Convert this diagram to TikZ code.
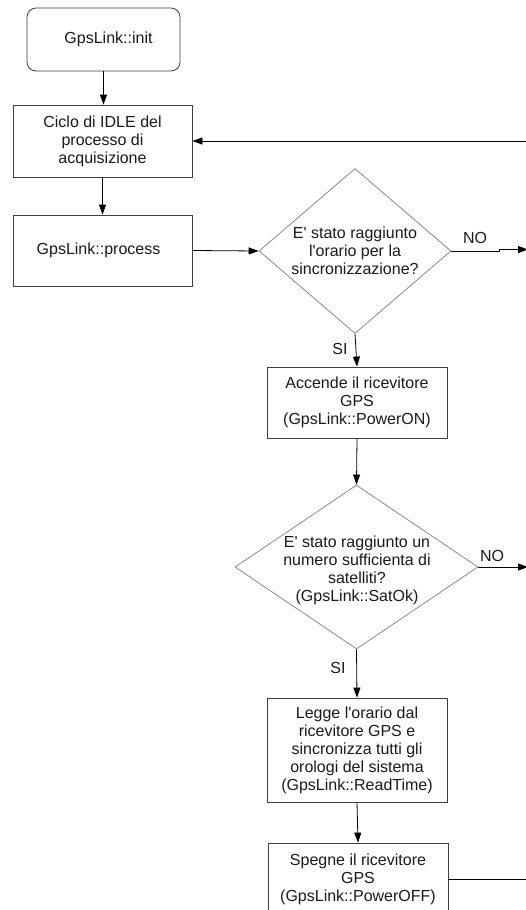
\documentclass[tikz,border=0pt]{standalone}
\usepackage{fontspec}
\setmainfont{Liberation Sans}
\usetikzlibrary{arrows.meta,shapes.geometric}
\definecolor{boxline}{HTML}{404040}
\definecolor{diamline}{HTML}{8A8A8A}
\definecolor{txt}{HTML}{1A1A1A}
\newcommand{\ap}{\textquotesingle}
\tikzset{
  every node/.style={font=\fontsize{16}{18}\selectfont, text=txt},
  stepbox/.style={draw=boxline, line width=0.8pt, align=center, inner sep=0pt},
  decision/.style={draw=diamline, line width=0.8pt, diamond, inner sep=0pt},
  conn/.style={draw=black, line width=0.8pt, -{Triangle[length=10pt,width=7pt]}},
  plain/.style={draw=black, line width=0.8pt},
  lbl/.style={inner sep=0pt}
}
\begin{document}
\begin{tikzpicture}[x=1pt,y=-1pt]
\useasboundingbox (0,0) rectangle (526,910);
\fill[white] (0,0) rectangle (526,910);

\node[stepbox, rounded corners=9pt, minimum width=153pt, minimum height=63pt] (init) at (103.5,39.5) {\hspace{10pt}GpsLink::init};
\node[stepbox, minimum width=179pt, minimum height=72pt] (idle) at (102.5,141) {Ciclo di IDLE del\\processo di\\acquisizione};
\node[stepbox, minimum width=179pt, minimum height=71pt] (proc) at (102.5,250.5) {GpsLink::process\hspace{8pt}};

\node[decision, minimum width=192pt, minimum height=165pt] (d1) at (355,251) {};
\node[lbl, align=center] (d1t) at (d1.center) {E\ap{} stato raggiunto\\l\ap orario per la\\sincronizzazione?};

\node[stepbox, minimum width=180pt, minimum height=71pt] (pon) at (357,402.5) {Accende il ricevitore\\GPS\\(GpsLink::PowerON)};

\node[decision, minimum width=243pt, minimum height=164pt] (d2) at (356.5,567) {};
\node[lbl, align=center] (d2t) at (357,570) {E\ap{} stato raggiunto un\\numero sufficienta di\\satelliti?\\(GpsLink::SatOk)};

\node[stepbox, minimum width=180pt, minimum height=104pt] (read) at (357,750) {Legge l\ap orario dal\\ricevitore GPS e\\sincronizza tutti gli\\orologi del sistema\\(GpsLink::ReadTime)};

\node[stepbox, minimum width=180pt, minimum height=72pt] (poff) at (358,879) {Spegne il ricevitore\\GPS\\(GpsLink::PowerOFF)};

\coordinate (no1) at (528,249.5);
\coordinate (no2) at (528,567);
\coordinate (loop) at (526,141);
\coordinate (offend) at (526,879);

\draw[conn] (init.south) -- (init.south |- idle.north);
\draw[conn] (idle) -- (proc);
\draw[conn] (proc.east) -- (d1.west);
\draw[conn] (d1.east) -- (499,251) -- (499,249.5) -- (no1);
\draw[conn] (d1.south) -- (pon.north);
\draw[conn] (pon.south) -- (d2.north);
\draw[conn] (d2.east) -- (no2);
\draw[conn] (d2.south) -- (read.north);
\draw[conn] (read.south) -- (poff.north);
\draw[plain] (poff.east) -- (offend);
\draw[conn] (loop) -- (idle.east);

\node[lbl] (lno1) at (475,238) {NO};
\node[lbl] (lno2) at (492,556) {NO};
\node[lbl] (lsi1) at (340,349) {SI};
\node[lbl] (lsi2) at (338,668) {SI};
\end{tikzpicture}
\end{document}
